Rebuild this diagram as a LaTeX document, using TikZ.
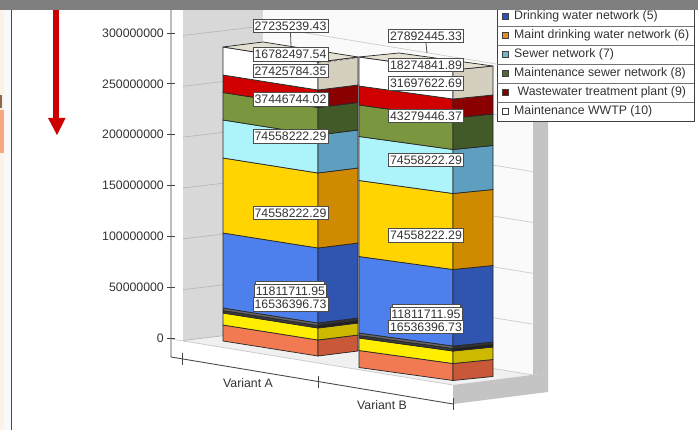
\documentclass[tikz,border=0pt]{standalone}
\usepackage{fontspec}
\setmainfont{Liberation Sans}
\definecolor{salF}{HTML}{F27A52}\definecolor{salS}{HTML}{C85838}
\definecolor{yelF}{HTML}{FFEE00}\definecolor{yelS}{HTML}{CDBA00}
\definecolor{drkF}{HTML}{3A3A3A}\definecolor{drkS}{HTML}{202020}
\definecolor{bluF}{HTML}{4D80EC}\definecolor{bluS}{HTML}{2F55B0}
\definecolor{golF}{HTML}{FFD400}\definecolor{golS}{HTML}{D08A00}
\definecolor{cyaF}{HTML}{ADF3FA}\definecolor{cyaS}{HTML}{5E9EBE}
\definecolor{grnF}{HTML}{7A963E}\definecolor{grnS}{HTML}{415A28}
\definecolor{redF}{HTML}{D00000}\definecolor{redS}{HTML}{8A0000}
\definecolor{whiF}{HTML}{FFFFFF}\definecolor{whiS}{HTML}{D5CFBF}
\definecolor{topF}{HTML}{E4E0D2}
\definecolor{wallL}{HTML}{D8D8D8}\definecolor{wallB}{HTML}{FAFAFA}
\definecolor{floorC}{HTML}{F0F0F0}\definecolor{slab}{HTML}{C4C4C4}
\definecolor{gridL}{HTML}{B8B8B8}\definecolor{gridB}{HTML}{CCCCCC}
\definecolor{floorEdge}{HTML}{C8C8C8}
\definecolor{axisC}{HTML}{454545}\definecolor{txtC}{HTML}{333333}
\definecolor{arrowR}{HTML}{CC0000}
\definecolor{topBar}{HTML}{7F7F7F}
\definecolor{creamC}{HTML}{FCF3E6}\definecolor{paleC}{HTML}{F9F9F9}
\definecolor{peachC}{HTML}{F7A87C}\definecolor{glyphC}{HTML}{8A6A50}
\definecolor{edgeC}{HTML}{4A4A4A}
\definecolor{legB}{HTML}{3050C0}\definecolor{legO}{HTML}{E09020}
\definecolor{legC}{HTML}{70B8C8}\definecolor{legG}{HTML}{506838}
\definecolor{legR}{HTML}{800000}
\newcommand\chartfont{\fontsize{12.3}{14}\selectfont}
% L w dw dd yt yb front side
\newcommand\barseg[8]{%
  \filldraw[fill=#7,segline] (#1,#5) -- ++(#2,#3) -- ++(0,#6-#5) -- (#1,#6) -- cycle;
  \filldraw[fill=#8,segline] (#1+#2,#5+#3) -- ++(40,#4) -- ++(0,#6-#5) -- (#1+#2,#6+#3) -- cycle;}
\newcommand\bartop[5]{%
  \filldraw[fill=topF,segline] (#1,#5) -- ++(#2,#3) -- ++(40,#4) -- ++(-#2,-#3) -- cycle;}
\begin{document}
\begin{tikzpicture}[x=1pt,y=-1pt,
  segline/.style={draw=black!85,line width=0.7pt,line join=round},
  lbl/.style={draw=black!70,fill=white,text=txtC,font=\chartfont,inner xsep=1.5pt,inner ysep=0pt,minimum height=13.5pt,line width=0.8pt},
  conn/.style={draw=black!70,line width=0.8pt},
  axlbl/.style={text=txtC,font=\chartfont,anchor=east,inner sep=0pt},
  leg/.style={text=txtC,font=\chartfont,anchor=west,inner sep=0pt},
  legmark/.style={draw=black!75,line width=0.6pt}]
\useasboundingbox (0,0) rectangle (698,430);
\fill[white] (0,0) rectangle (698,430);
% left panel strip
\fill[creamC] (0,10) rectangle (4,430);
\fill[paleC] (4,10) rectangle (10.5,430);
\fill[peachC] (0,110) rectangle (4,153);
\fill[glyphC] (0,95) rectangle (2,108);
\fill[edgeC] (10.5,10) rectangle (12,430);
% walls and floor
\fill[wallL] (183,10) -- (263,10) -- (263,331) -- (183,341) -- cycle;
\fill[wallB] (263,10) -- (533,10) -- (533,375) -- (263,331) -- cycle;
\fill[floorC] (183,341) -- (263,331) -- (533,375) -- (453,385) -- cycle;
\fill[slab] (533,10) -- (548,10) -- (548,373) -- (533,375) -- cycle;
\fill[slab] (453,385) -- (548,373) -- (548,392) -- (453,404) -- cycle;
\foreach \v in {0,50,100,150,200,250,300}{
  \pgfmathsetmacro\ty{338-1.0167*\v}
  \draw[gridL,line width=0.7pt] (183,\ty+2.5) -- (263,\ty-7);
  \draw[gridB,line width=0.7pt] (263,\ty-7) -- (533,\ty+37);
}
\draw[floorEdge,line width=0.7pt] (171,339) -- (453,385);
% axes
\draw[axisC,line width=0.9pt] (171,10) -- (171,357) -- (453,404);
\foreach \v/\t in {0/0,50/50000000,100/100000000,150/150000000,200/200000000,250/250000000,300/300000000}{
  \pgfmathsetmacro\ty{338-1.0167*\v}
  \draw[axisC,line width=0.9pt] (167,\ty) -- (175,\ty);
  \node[axlbl] at (164,\ty) {\t};
}
\draw[axisC,line width=0.9pt] (182,353) -- (182,365);
\draw[axisC,line width=0.9pt] (318,376) -- (318,388);
\draw[axisC,line width=0.9pt] (453,398) -- (453,410);
\node[text=txtC,font=\chartfont] (catA) at (248,383) {Variant A};
\node[text=txtC,font=\chartfont] (catB) at (382,405) {Variant B};
% bar A
\barseg{223}{95}{15}{-5}{325}{341}{salF}{salS}
\barseg{223}{95}{15}{-5}{313}{325}{yelF}{yelS}
\barseg{223}{95}{15}{-5}{310.5}{313}{drkF}{drkS}
\barseg{223}{95}{15}{-5}{308}{310.5}{black!60}{black!80}
\barseg{223}{95}{15}{-5}{233}{308}{bluF}{bluS}
\barseg{223}{95}{15}{-5}{158}{233}{golF}{golS}
\barseg{223}{95}{15}{-5}{120}{158}{cyaF}{cyaS}
\barseg{223}{95}{15}{-5}{92.5}{120}{grnF}{grnS}
\barseg{223}{95}{15}{-5}{75}{92.5}{redF}{redS}
\barseg{223}{95}{15}{-5}{47}{75}{whiF}{whiS}
\bartop{223}{95}{15}{-5}{47}
% bar B
\barseg{359}{94}{13}{-4}{350.5}{367.5}{salF}{salS}
\barseg{359}{94}{13}{-4}{338}{350.5}{yelF}{yelS}
\barseg{359}{94}{13}{-4}{335.5}{338}{drkF}{drkS}
\barseg{359}{94}{13}{-4}{333}{335.5}{black!60}{black!80}
\barseg{359}{94}{13}{-4}{256.5}{333}{bluF}{bluS}
\barseg{359}{94}{13}{-4}{180.5}{256.5}{golF}{golS}
\barseg{359}{94}{13}{-4}{136.5}{180.5}{cyaF}{cyaS}
\barseg{359}{94}{13}{-4}{105}{136.5}{grnF}{grnS}
\barseg{359}{94}{13}{-4}{86}{105}{redF}{redS}
\barseg{359}{94}{13}{-4}{57}{86}{whiF}{whiS}
\bartop{359}{94}{13}{-4}{57}
% labels bar A
\coordinate (ta) at (291,46);
\coordinate (tb) at (427,53);
\node[lbl] (a1) at (290.5,26) {27235239.43};
\draw[conn] (a1.south) -- (ta);
\draw[black!70,dashed,line width=0.7pt] (328,62) -- (357,57.5);
\node[lbl] (a2) at (290.5,54.5) {16782497.54};
\node[lbl] (a3) at (290.5,71) {27425784.35};
\node[lbl] (a4) at (290.5,99.5) {37446744.02};
\node[lbl] (a5) at (290.5,136.5) {74558222.29};
\node[lbl] (a6) at (290.5,213) {74558222.29};
\filldraw[fill=white,draw=black!70,line width=0.8pt] (255,281.5) rectangle (324,290);
\node[lbl] (a7) at (290.5,291.5) {11811711.95};
\node[lbl] (a8) at (290.5,304.5) {16536396.73};
% labels bar B
\node[lbl] (b1) at (426,36) {27892445.33};
\draw[conn] (b1.south) -- (tb);
\node[lbl] (b2) at (426,65) {18274841.89};
\node[lbl] (b3) at (426,83.5) {31697622.69};
\node[lbl] (b4) at (426,116) {43279446.37};
\node[lbl] (b5) at (426,160) {74558222.29};
\node[lbl] (b6) at (426,235.5) {74558222.29};
\filldraw[fill=white,draw=black!70,line width=0.8pt] (392,304) rectangle (460,312);
\node[lbl] (b7) at (426,314) {11811711.95};
\node[lbl] (b8) at (426,327) {16536396.73};
% legend
\filldraw[fill=white,draw=black!75,line width=0.9pt] (497,7) rectangle (694,121);
\foreach \yy in {26,45,64,83,102}{
  \draw[black!55,line width=0.7pt] (497,\yy) -- (694,\yy);
}
\foreach \yy/\c/\t [count=\i] in {16.5/legB/{Drinking water network (5)},35.5/legO/{Maint drinking water network (6)},54.5/legC/{Sewer network (7)},73.5/legG/{Maintenance sewer network (8)},92.5/legR/{\ Wastewater treatment plant (9)},111.5/white/{Maintenance WWTP (10)}}{
  \filldraw[fill=\c,legmark] (502,\yy-3.2) rectangle (508.5,\yy+3.2);
  \node[leg] (leg\i) at (514,\yy) {\t};
}
% top bar
\fill[topBar] (0,0) rectangle (698,10);
% red arrow
\fill[arrowR] (53.2,10) rectangle (58.6,119);
\fill[arrowR] (48,118) -- (65.5,118) -- (57,135) -- cycle;
\end{tikzpicture}
\end{document}
